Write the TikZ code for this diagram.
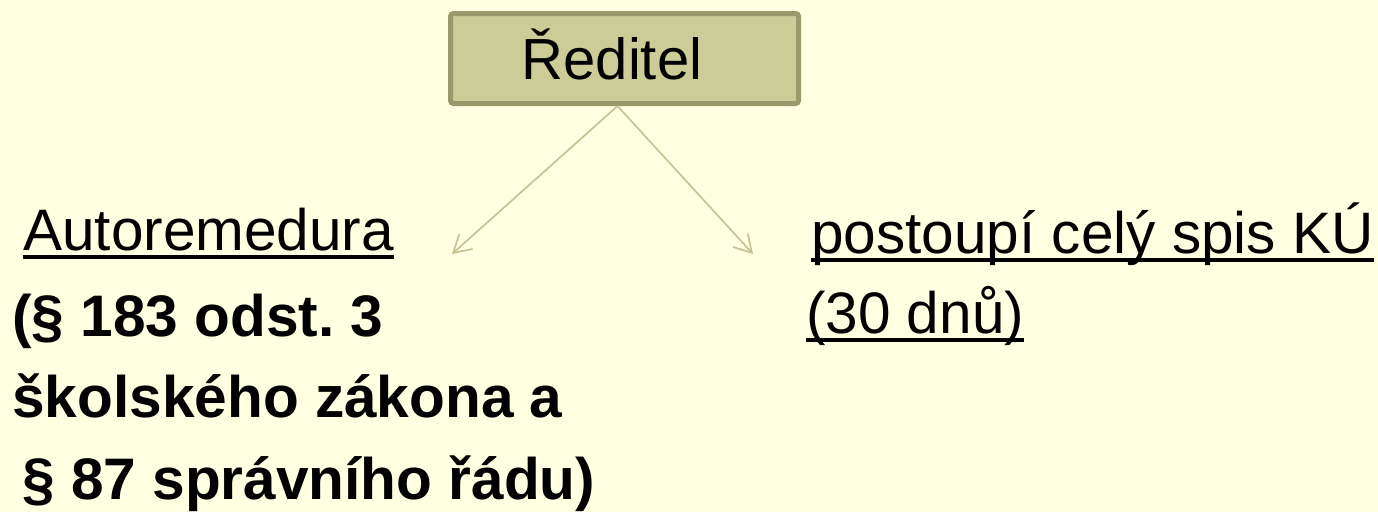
\documentclass[tikz,border=0pt]{standalone}
\usepackage{fontspec}
\setmainfont{Liberation Sans}
\usetikzlibrary{arrows.meta}
\frenchspacing
\definecolor{slidebg}{RGB}{255,255,225}
\definecolor{boxfill}{RGB}{204,204,153}
\definecolor{boxline}{RGB}{153,153,108}
\definecolor{arrowcol}{RGB}{196,196,150}
\newcommand{\ulnode}[1]{\fill ([yshift=-5pt]#1.base west) rectangle ([yshift=-9pt]#1.base east);}
\tikzset{
  big/.style={inner sep=0pt, anchor=base west, font=\fontsize{58.5}{70}\selectfont},
  bigbold/.style={inner sep=0pt, anchor=base west, font=\fontsize{58.6}{70}\selectfont\bfseries},
  headbox/.style={draw=boxline, fill=boxfill, line width=5pt, rounded corners=3pt,
    minimum width=348pt, minimum height=90pt, inner sep=0pt, text depth=8pt,
    font=\fontsize{58}{70}\selectfont}
}
\begin{document}
\begin{tikzpicture}[x=1pt, y=-1pt, >={Straight Barb[length=17pt,width=20pt]}]
\fill[slidebg] (0,0) rectangle (1378,512);
\useasboundingbox (0,0) rectangle (1378,512);
\node[headbox] (reditel) at (624.5,58.5) {Ředitel\kern25pt};
% left branch
\node[big] (autoremedura) at (23,250) {Autoremedura};
\ulnode{autoremedura}
\node[bigbold] (par183) at (12,336) {(§ 183 odst. 3};
\node[bigbold] (skolsky) at (12,417) {školského zákona a};
\node[bigbold] (par87) at (22,499) {§ 87 správního řádu)};
% right branch
\node[big] (postoupi) at (811,253) {postoupí celý spis KÚ};
\ulnode{postoupi}
\node[big] (lhuta) at (806,333) {(30 dnů)};
\ulnode{lhuta}
\coordinate (lefttip) at (452,254);
\coordinate (righttip) at (753,254);
\draw[->, draw=arrowcol, line width=1.7pt] ([xshift=-7pt]reditel.south) -- (lefttip);
\draw[->, draw=arrowcol, line width=1.7pt] ([xshift=-7pt]reditel.south) -- (righttip);
\end{tikzpicture}
\end{document}
